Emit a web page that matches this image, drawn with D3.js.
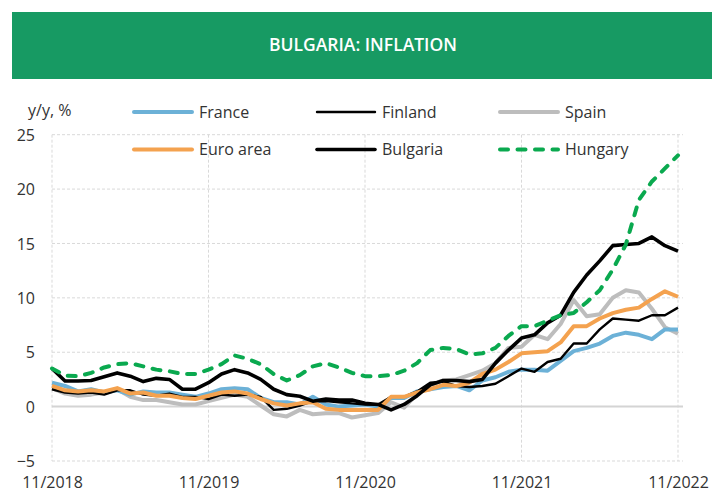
<!DOCTYPE html>
<html>
<head>
<meta charset="utf-8">
<script src="https://cdn.jsdelivr.net/npm/d3@7"></script>
<style>
  body { margin: 0; background: #fff; }
  svg { display: block; font-family: "Open Sans", "Noto Sans", sans-serif; }
</style>
</head>
<body>
<svg id="chart" width="723" height="496"></svg>
<script>
// ---------- DATA ----------
const months = d3.timeMonth.range(new Date(2018, 10, 1), new Date(2022, 11, 1)); // Nov 2018 .. Nov 2022
const xTickLabels = ["11/2018", "11/2019", "11/2020", "11/2021", "11/2022"];
const yTickValues = [-5, 0, 5, 10, 15, 20, 25];

const france   = [2.2,1.9,1.4,1.6,1.3,1.5,1.1,1.4,1.3,1.3,1.1,0.9,
                  1.2,1.6,1.7,1.6,0.8,0.4,0.4,0.2,0.9,0.2,0.0,0.1,
                  0.2,0.0,0.8,0.8,1.4,1.6,1.8,1.9,1.5,2.4,2.7,3.2,
                  3.4,3.4,3.3,4.2,5.1,5.4,5.8,6.5,6.8,6.6,6.2,7.1,7.1];
const finland  = [1.6,1.3,1.2,1.3,1.1,1.5,1.5,1.1,1.0,1.2,0.9,0.9,
                  0.7,1.1,1.0,1.1,0.9,-0.3,-0.2,0.1,0.5,0.5,0.4,0.3,
                  0.2,0.2,0.9,0.9,1.4,2.2,2.3,1.9,1.8,1.9,2.1,2.8,
                  3.5,3.2,4.1,4.4,5.8,5.8,7.1,8.1,8.0,7.9,8.4,8.4,9.1];
const spain    = [1.7,1.2,1.0,1.1,1.3,1.6,0.9,0.6,0.6,0.4,0.2,0.2,
                  0.5,0.8,1.1,0.9,0.1,-0.7,-0.9,-0.3,-0.7,-0.6,-0.6,-1.0,
                  -0.8,-0.6,0.4,-0.1,1.2,2.0,2.4,2.5,2.9,3.3,4.0,5.4,
                  5.5,6.6,6.2,7.6,9.8,8.3,8.5,10.0,10.7,10.5,9.0,7.3,6.7];
const euroArea = [1.9,1.5,1.4,1.5,1.4,1.7,1.2,1.3,1.0,1.0,0.8,0.7,
                  1.0,1.3,1.4,1.2,0.7,0.3,0.1,0.3,0.4,-0.2,-0.3,-0.3,
                  -0.3,-0.3,0.9,0.9,1.3,1.6,2.0,1.9,2.2,3.0,3.4,4.1,
                  4.9,5.0,5.1,5.9,7.4,7.4,8.1,8.6,8.9,9.1,9.9,10.6,10.1];
const bulgaria = [3.5,2.35,2.35,2.4,2.75,3.1,2.8,2.3,2.6,2.5,1.6,1.6,
                  2.2,3.0,3.4,3.1,2.5,1.6,1.1,0.95,0.5,0.7,0.6,0.6,
                  0.3,0.2,-0.3,0.2,1.0,2.0,2.4,2.4,2.3,2.5,4.0,5.2,
                  6.3,6.6,7.7,8.4,10.5,12.1,13.4,14.8,14.9,15.0,15.6,14.8,14.3];
const hungary  = [3.5,2.85,2.8,3.1,3.6,3.9,4.0,3.7,3.4,3.25,3.0,3.0,
                  3.4,3.9,4.7,4.4,3.9,3.0,2.4,2.9,3.7,4.0,3.6,3.1,
                  2.8,2.8,2.9,3.3,4.0,5.2,5.4,5.3,4.8,4.9,5.4,6.5,
                  7.4,7.4,7.9,8.4,8.6,9.6,10.7,12.6,14.9,19.0,20.7,21.9,23.1];

const seriesNames = ["France", "Finland", "Spain", "Euro area", "Bulgaria", "Hungary"];
const seriesValues = [france, finland, spain, euroArea, bulgaria, hungary];
const seriesColors = ["#6cb1d7", "#000000", "#bdbdbd", "#f4a24f", "#000000", "#0aa94f"];
const seriesWidths = [4, 2.4, 4, 4, 3.6, 4];
const seriesDash   = [null, null, null, null, null, "8,9.5"];
const drawOrder    = [2, 0, 1, 3, 4, 5];

// ---------- LAYOUT ----------
const svg = d3.select("#chart");
const plot = { left: 52, right: 683, top: 134.7, bottom: 461, dataRight: 678 };

// header banner
svg.append("rect").attr("x", 12).attr("y", 12).attr("width", 700).attr("height", 67)
  .attr("fill", "#179a63");
svg.append("text").attr("x", 363).attr("y", 51).attr("text-anchor", "middle")
  .attr("fill", "#fff").attr("font-size", 17.5).attr("font-weight", 600)
  .text("BULGARIA: INFLATION");

// scales
const x = d3.scaleLinear().domain([0, months.length - 1]).range([plot.left, plot.dataRight]);
const y = d3.scaleLinear().domain([-5, 25]).range([plot.bottom, plot.top]);

const tickIdx = xTickLabels.map(lbl => {
  const [m, yr] = lbl.split("/").map(Number);
  return months.findIndex(d => d.getMonth() === m - 1 && d.getFullYear() === yr);
});

// horizontal gridlines
const grid = svg.append("g");
grid.selectAll("line.h").data(yTickValues.filter(v => v !== 0)).join("line")
  .attr("x1", plot.left).attr("x2", plot.right)
  .attr("y1", d => y(d)).attr("y2", d => y(d))
  .attr("stroke", "#d9d9d9").attr("stroke-width", 1).attr("stroke-dasharray", "3,2");
// vertical gridlines
grid.selectAll("line.v").data(tickIdx).join("line")
  .attr("x1", d => x(d)).attr("x2", d => x(d))
  .attr("y1", plot.top).attr("y2", plot.bottom)
  .attr("stroke", "#d9d9d9").attr("stroke-width", 1).attr("stroke-dasharray", "3,2");
// zero line
grid.append("line").attr("x1", plot.left).attr("x2", plot.right)
  .attr("y1", y(0)).attr("y2", y(0)).attr("stroke", "#d4d4d4").attr("stroke-width", 2);

// y axis labels
const yAxis = d3.axisLeft(y).tickValues(yTickValues).tickSize(0).tickPadding(0);
const gy = svg.append("g").attr("transform", "translate(35,0)").call(yAxis);
gy.select(".domain").remove();
gy.selectAll("text").attr("font-size", 16).attr("fill", "#333")
  .attr("font-family", "'Open Sans', sans-serif").attr("dy", "0.36em");

// x axis labels
const xAxis = d3.axisBottom(x).tickValues(tickIdx).tickSize(0).tickPadding(0)
  .tickFormat((d, i) => xTickLabels[i]);
const gx = svg.append("g").attr("transform", "translate(0,477)").call(xAxis);
gx.select(".domain").remove();
gx.selectAll("text").attr("font-size", 16).attr("fill", "#333")
  .attr("font-family", "'Open Sans', sans-serif").attr("dy", "0.71em");

// y unit label
svg.append("text").attr("x", 28).attr("y", 116).attr("font-size", 16).attr("fill", "#333")
  .text("y/y, %");

// lines
const line = d3.line().x((d, i) => x(i)).y(d => y(d));
const linesG = svg.append("g");
drawOrder.forEach(k => {
  const p = linesG.append("path").datum(seriesValues[k])
    .attr("d", line).attr("fill", "none")
    .attr("stroke", seriesColors[k]).attr("stroke-width", seriesWidths[k])
    .attr("stroke-linejoin", "round");
  if (seriesDash[k]) p.attr("stroke-dasharray", seriesDash[k]).attr("stroke-linecap", "round");
});

// legend
const legendCols = [132, 315, 498];
const legendRows = [112, 149.5];
const legend = svg.append("g");
seriesNames.forEach((name, k) => {
  const col = k % 3, row = Math.floor(k / 3);
  const lx = legendCols[col], ly = legendRows[row];
  const sw = legend.append("line").attr("x1", lx + 2).attr("x2", lx + 60)
    .attr("y1", ly).attr("y2", ly)
    .attr("stroke", seriesColors[k]).attr("stroke-width", seriesWidths[k])
    .attr("stroke-linecap", "round");
  if (seriesDash[k]) sw.attr("stroke-dasharray", seriesDash[k]);
  legend.append("text").attr("x", lx + 67).attr("y", ly).attr("dy", "0.35em")
    .attr("font-size", 16).attr("fill", "#333").text(name);
});
</script>
</body>
</html>
